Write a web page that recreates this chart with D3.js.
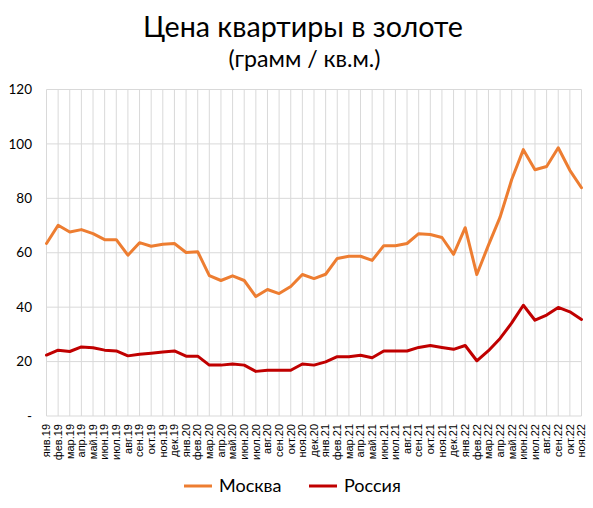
<!DOCTYPE html>
<html><head><meta charset="utf-8">
<script src="https://cdn.jsdelivr.net/npm/d3@7"></script>
<style>body{margin:0;background:#fff}svg{display:block}</style>
</head><body>
<svg id="c" width="593" height="508"></svg>
<script>
const months = ["янв.19","фев.19","мар.19","апр.19","май.19","июн.19","июл.19","авг.19","сен.19","окт.19","ноя.19","дек.19",
"янв.20","фев.20","мар.20","апр.20","май.20","июн.20","июл.20","авг.20","сен.20","окт.20","ноя.20","дек.20",
"янв.21","фев.21","мар.21","апр.21","май.21","июн.21","июл.21","авг.21","сен.21","окт.21","ноя.21","дек.21",
"янв.22","фев.22","мар.22","апр.22","май.22","июн.22","июл.22","авг.22","сен.22","окт.22","ноя.22"];
const moscow = [63.4,70.1,67.6,68.5,67.0,64.8,64.8,59.1,63.7,62.4,63.1,63.4,
60.1,60.4,51.6,49.8,51.5,49.8,43.9,46.5,45.0,47.6,52.0,50.5,
52.1,57.9,58.7,58.7,57.2,62.6,62.6,63.4,67.0,66.7,65.6,59.4,
69.2,52.0,62.8,73.1,86.9,97.9,90.5,91.7,98.6,90.3,83.9];
const russia = [22.4,24.2,23.7,25.4,25.1,24.2,23.9,22.1,22.7,23.1,23.5,23.9,
22.0,22.0,18.7,18.7,19.1,18.7,16.4,16.8,16.8,16.8,19.1,18.7,
19.9,21.8,21.8,22.3,21.4,23.9,23.9,23.9,25.2,25.9,25.2,24.5,
25.9,20.3,24.0,28.5,34.2,40.7,35.2,37.1,39.9,38.3,35.5];
const yTicks = [0,20,40,60,80,100,120];
const seriesNames = ["Москва","Россия"];
const colors = ["#ED7D31","#C00000"];

const svg = d3.select("#c");
const L=46.5, R=581.5, T=89.5, B=416;
const x = d3.scalePoint().domain(months).range([L,R]);
const y = d3.scaleLinear().domain([0,120]).range([B,T]);

function fit(sel, w){ const n=sel.node(); const cur=n.getComputedTextLength(); const fs=+sel.attr("font-size"); sel.attr("font-size", fs*w/cur); }

// grid
svg.append("g").selectAll("line.h").data(yTicks).join("line")
  .attr("x1",L).attr("x2",R).attr("y1",d=>y(d)).attr("y2",d=>y(d))
  .attr("stroke","#d9d9d9").attr("stroke-width",1);
svg.append("g").selectAll("line.v").data(months).join("line")
  .attr("x1",d=>x(d)).attr("x2",d=>x(d)).attr("y1",T).attr("y2",B)
  .attr("stroke","#d9d9d9").attr("stroke-width",1);

// y labels
svg.append("g").selectAll("text").data(yTicks).join("text")
  .attr("x",32).attr("y",d=>y(d)).attr("dy","0.35em").attr("text-anchor","end")
  .attr("font-family","Lato, sans-serif").attr("font-size",13.5).attr("fill","#000")
  .text(d=>d===0?"-":d);

// x labels
svg.append("g").selectAll("text").data(months).join("text")
  .attr("transform",d=>`translate(${x(d)+3.8},${B+8}) rotate(-90)`)
  .attr("text-anchor","end")
  .attr("font-family","'Liberation Sans', Arial, sans-serif").attr("font-size",11).attr("fill","#000")
  .text(d=>d);

// lines
const line = d3.line().x((d,i)=>x(months[i])).y(d=>y(d));
[moscow,russia].forEach((s,k)=>{
  svg.append("path").datum(s).attr("d",line).attr("fill","none")
    .attr("stroke",colors[k]).attr("stroke-width",3).attr("stroke-linejoin","round").attr("stroke-linecap","round");
});

// title
const t1 = svg.append("text").attr("x",303).attr("y",37).attr("text-anchor","middle")
  .attr("font-family","Lato, sans-serif").attr("font-size",30).attr("fill","#000").text("Цена квартиры в золоте");
fit(t1,320);
const t2 = svg.append("text").attr("x",304.5).attr("y",67).attr("text-anchor","middle")
  .attr("font-family","Lato, sans-serif").attr("font-size",21).attr("fill","#000").text("(грамм / кв.м.)");
fit(t2,152);

// legend
const lg = [{x:184,name:seriesNames[0],c:colors[0],w:67},{x:309,name:seriesNames[1],c:colors[1],w:60}];
lg.forEach(d=>{
  svg.append("line").attr("x1",d.x).attr("x2",d.x+28).attr("y1",486).attr("y2",486)
    .attr("stroke",d.c).attr("stroke-width",3);
  svg.append("text").attr("x",d.x+35).attr("y",486).attr("dy","0.35em")
    .attr("font-family","Lato, sans-serif").attr("font-size",18).attr("fill","#000").text(d.name);
});
</script>
</body></html>
